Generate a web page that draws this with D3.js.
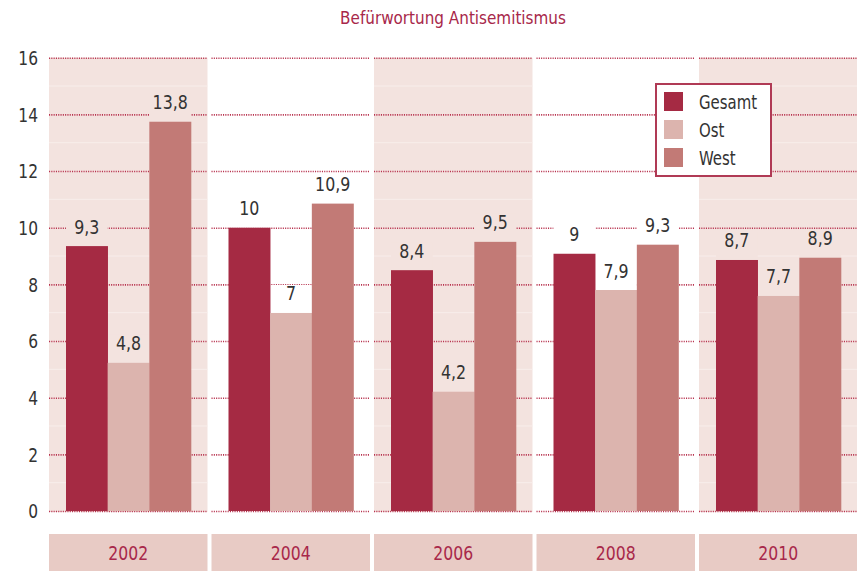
<!DOCTYPE html>
<html><head><meta charset="utf-8">
<script src="https://cdn.jsdelivr.net/npm/d3@7"></script>
<style>
body{margin:0;background:#fff;}
svg text{font-family:"Liberation Sans Narrow","DejaVu Sans Condensed","DejaVu Sans",sans-serif;}
</style></head>
<body><svg id="c" width="857" height="583"></svg>
<script>
const title = "Befürwortung Antisemitismus";
const years = ["2002","2004","2006","2008","2010"];
const series = ["Gesamt","Ost","West"];
const gesamt = [9.35, 10.0, 8.5, 9.08, 8.86];
const ost    = [5.23, 6.99, 4.21, 7.8, 7.59];
const west   = [13.74, 10.85, 9.5, 9.4, 8.94];
const gesamtLabels = ["9,3","10","8,4","9","8,7"];
const ostLabels    = ["4,8","7","4,2","7,9","7,7"];
const westLabels   = ["13,8","10,9","9,5","9,3","8,9"];
const yTicks = [0,2,4,6,8,10,12,14,16];

const colors = {Gesamt:"#a52a43", Ost:"#dcb4ae", West:"#c27a76"};
const bandShade = "#f3e3df";
const crimson = "#a8284a";

const svg = d3.select("#c");
const x = d3.scaleBand().domain(years).range([49, 857.5]).paddingInner(0.0246).paddingOuter(0);
const xs = d3.scaleBand().domain(series).range([17, 142]);
const y = d3.scaleLinear().domain([0,16]).range([511, 57.7]);

const vals = {Gesamt:gesamt, Ost:ost, West:west};
const labs = {Gesamt:gesamtLabels, Ost:ostLabels, West:westLabels};

function addText(parent, tx, ty, str, o) {
  return parent.append("text")
    .attr("transform", `translate(${tx},${ty}) scale(${o.sx||1},1)`)
    .attr("text-anchor", o.anchor || "start")
    .attr("dy", o.dy || null)
    .attr("font-size", o.size).attr("fill", o.fill).text(str);
}

// title
addText(svg, 453, 24, title, {anchor:"middle", size:18, sx:0.94, fill:crimson});

// bands
const g = svg.selectAll("g.grp").data(years).join("g").attr("class","grp")
  .attr("transform", d => `translate(${x(d)},0)`);
g.append("rect").attr("x",0).attr("y", y(16)).attr("width", x.bandwidth())
  .attr("height", y(0)-y(16)+1).attr("fill", (d,i) => i%2===0 ? bandShade : "#fff");
// faint odd lines
g.filter((d,i)=>i%2===0).selectAll("line.odd").data([1,3,5,7,9,11,13,15]).join("line")
  .attr("x1",0).attr("x2",x.bandwidth()).attr("y1",d=>y(d)).attr("y2",d=>y(d))
  .attr("stroke","#f8eeeb").attr("stroke-width",1);
// gridlines
g.selectAll("line.grid").data(yTicks).join("line").attr("class","grid")
  .attr("x1",0).attr("x2",x.bandwidth()).attr("y1",d=>y(d)+0.5).attr("y2",d=>y(d)+0.5)
  .attr("stroke","#b8334f").attr("stroke-width",1.6).attr("stroke-dasharray","1.1,1.2");

// label boxes + bars + labels
years.forEach((yr,i) => {
  const gg = g.filter(d => d===yr);
  const bg = i%2===0 ? bandShade : "#fff";
  series.forEach(s => {
    const v = vals[s][i];
    gg.append("rect").attr("x", xs(s)).attr("y", y(v)-28).attr("width", xs.bandwidth())
      .attr("height", 28).attr("fill", bg);
  });
  series.forEach(s => {
    const v = vals[s][i];
    gg.append("rect").attr("x", xs(s)).attr("y", y(v)).attr("width", xs.bandwidth()+0.3)
      .attr("height", y(0)-y(v)).attr("fill", colors[s]);
    addText(gg, xs(s)+xs.bandwidth()/2, y(v)-12.5, labs[s][i],
      {anchor:"middle", size:20, sx:0.88, fill:"#333"});
  });
});

// y-axis labels
const ya = svg.append("g");
yTicks.forEach(t => addText(ya, 38, y(t), t, {anchor:"end", dy:"0.36em", size:20, sx:0.86, fill:"#333"}));

// category boxes
const cb = svg.append("g");
years.forEach(d => {
  cb.append("rect").attr("x", x(d)).attr("y",534).attr("width",x.bandwidth()).attr("height",37)
    .attr("fill","#e8cbc5");
  addText(cb, x(d)+x.bandwidth()/2, 552.5, d, {anchor:"middle", dy:"0.36em", size:20, sx:0.87, fill:crimson});
});

// legend
const lg = svg.append("g").attr("transform","translate(656,84)");
lg.append("rect").attr("x",0).attr("y",0).attr("width",115).attr("height",92)
  .attr("fill","#fff").attr("stroke","#b03a55").attr("stroke-width",2);
series.forEach((s,i)=>{
  lg.append("rect").attr("x",8).attr("y",8+i*28).attr("width",19).attr("height",19).attr("fill",colors[s]);
  addText(lg, 43, 17.5+i*28, s, {dy:"0.36em", size:20, sx:0.83, fill:"#333"});
});
</script></body></html>
